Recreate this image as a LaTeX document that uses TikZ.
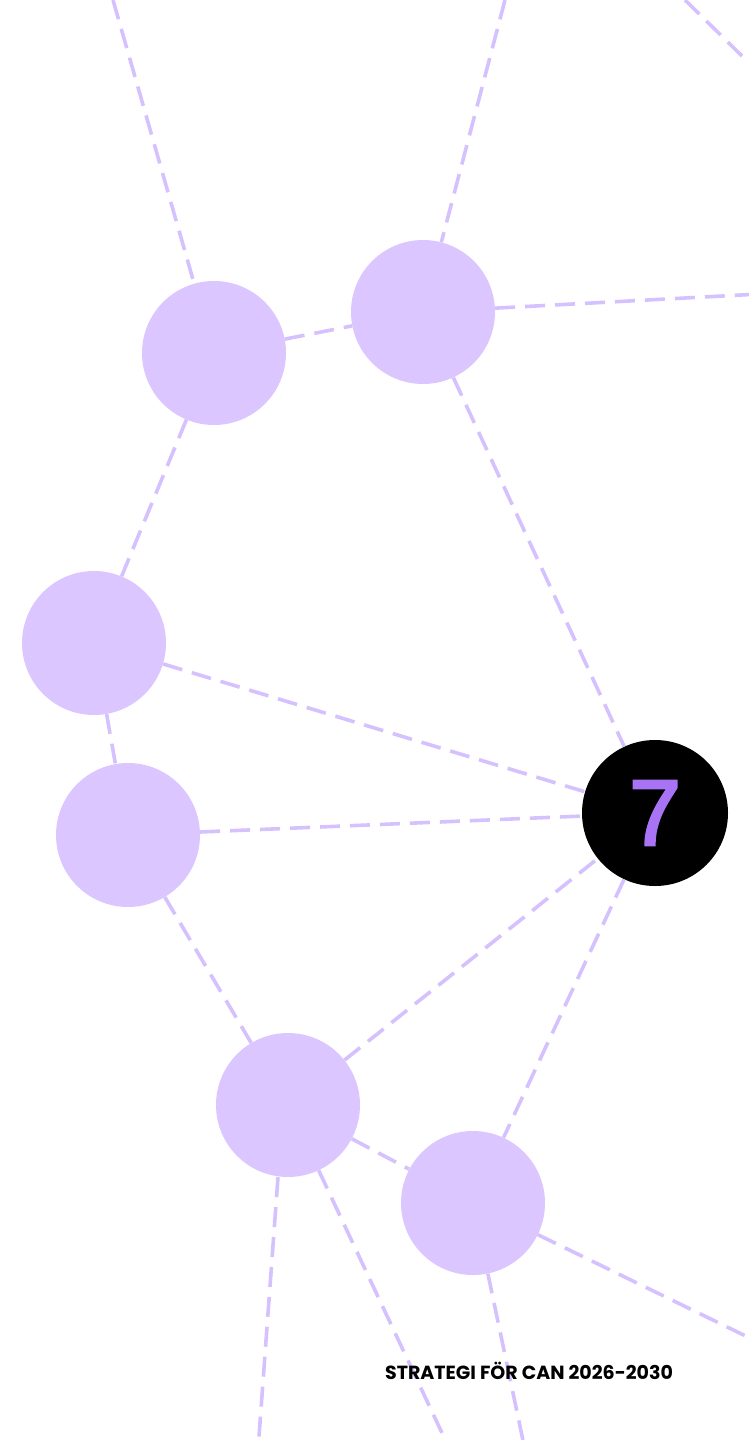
\documentclass[tikz,border=0pt]{standalone}
\usepackage{fontspec}
\setmainfont{Poppins}
\newfontfamily\sevenfont[FakeBold=3]{Liberation Sans}
\definecolor{lilac}{HTML}{DBC6FF}
\definecolor{lilacline}{HTML}{D6C1FF}
\definecolor{seven}{HTML}{A873F5}
\tikzset{
  hub/.style={circle,fill=lilac,minimum size=144pt,inner sep=0pt},
  link/.style={lilacline,line width=3.6pt,dash pattern=on 20pt off 10pt}
}
\begin{document}
\begin{tikzpicture}[x=1pt,y=-1pt]
                \useasboundingbox (0,0) rectangle (749,1440);
                \clip (0,0) rectangle (749,1440);
                % circles
                \node[hub] (a) at (214,353) {};
                \node[hub] (b) at (423,312) {};
                \node[hub] (c) at (94,643) {};
                \node[hub] (d) at (128,835) {};
                \node[hub] (e) at (288,1105) {};
                \node[hub] (f) at (473,1203) {};
                \node[circle,fill=black,minimum size=146pt,inner sep=0pt,text=seven,font=\sevenfont\fontsize{93}{93}\selectfont] (g) at (655,813) {7};
                % loose ends
                \coordinate (ta) at (113,0);
                \coordinate (tb) at (505,0);
                \coordinate (tr1) at (685,0);
                \coordinate (tr2) at (742,56);
                \coordinate (rb) at (760,294);
                \coordinate (rf) at (760,1343);
                \coordinate (be1) at (258,1450);
                \coordinate (be2) at (450,1450);
                \coordinate (bf) at (525,1450);
                % links
                \draw[link] (ta) -- (a);
                \draw[link] (tb) -- (b);
                \draw[link] (tr1) -- (tr2);
                \draw[link] (a) -- (b);
                \draw[link] (b) -- (rb);
                \draw[link] (b) -- (g);
                \draw[link] (a) -- (c);
                \draw[link] (c) -- (g);
                \draw[link] (c) -- (d);
                \draw[link] (d) -- (g);
                \draw[link] (d) -- (e);
                \draw[link] (e) -- (g);
                \draw[link] (g) -- (f);
                \draw[link] (e) -- (f);
                \draw[link] (f) -- (rf);
                \draw[link] (e.south) ++(-10,0) -- (be1);
                \draw[link] (e) -- (be2);
                \draw[link] (f) -- (bf);
                % footer
                \node[font=\bfseries\fontsize{19}{19}\selectfont] (title) at (529,1371) {STRATEGI FÖR CAN 2026-2030};
\end{tikzpicture}
\end{document}
